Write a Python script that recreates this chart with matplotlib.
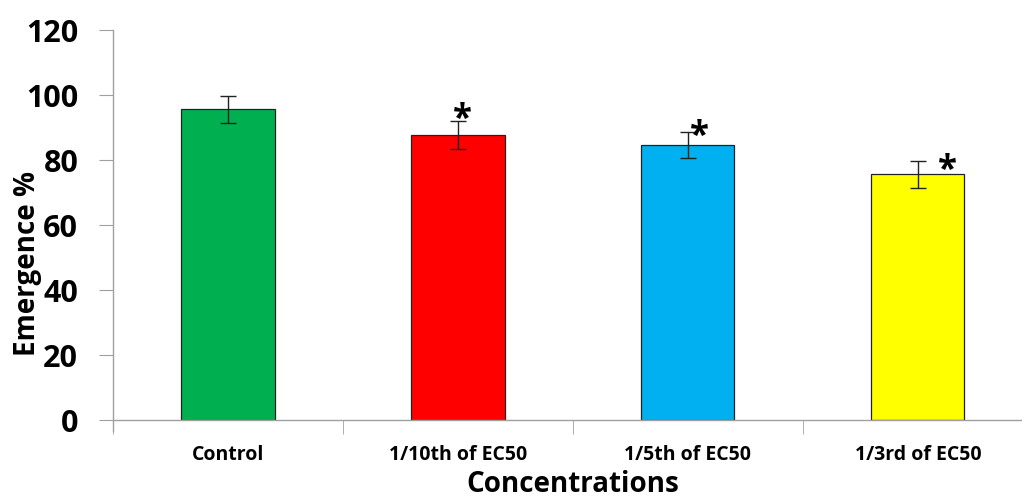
import matplotlib.pyplot as plt
import numpy as np

categories = ["Control", "1/10th of EC50", "1/5th of EC50", "1/3rd of EC50"]
emergence = [95.6, 87.7, 84.6, 75.6]
errors = [4.2, 4.2, 4.0, 4.1]
colors = ["#00B050", "#FF0000", "#00B0F0", "#FFFF00"]
# significance marks: (category index, x shift, height)
stars = [(1, 0.02, 92.5), (2, 0.05, 87.5), (3, 0.13, 77.0)]

plt.rcParams['font.family'] = ['Open Sans', 'DejaVu Sans']

fig = plt.figure(figsize=(10.22, 5.02), dpi=100)
ax = fig.add_axes([0.1106, 0.1614, 0.900, 0.777])

x = np.arange(len(categories))
ax.bar(x, emergence, width=0.405, color=colors, edgecolor="#222222", linewidth=0.9, zorder=2)
ax.errorbar(x, emergence, yerr=errors, fmt="none", ecolor="#222222", elinewidth=1.0,
            capsize=6, capthick=1.0, zorder=3)

for i, dx, y in stars:
    ax.text(i + dx, y, "*", ha="center", va="center", fontsize=25, fontweight="bold")

ax.set_xlim(-0.5, 3.5)
ax.set_ylim(0, 120)
ax.set_yticks(range(0, 121, 20))
ax.set_yticklabels([str(v) for v in range(0, 121, 20)], fontsize=22, fontweight="bold")
ax.set_xticks(x)
ax.set_xticklabels(categories, fontsize=14, fontweight="bold")
ax.set_xticks(np.arange(-0.5, 4.0, 1.0), minor=True)
ax.tick_params(axis="x", which="major", length=0, pad=17)
ax.tick_params(axis="x", which="minor", length=10, color="#a0a0a0", direction="out")
ax.tick_params(axis="y", length=10, color="#a0a0a0", direction="out", pad=15)

for side in ["top", "right"]:
    ax.spines[side].set_visible(False)
for side in ["left", "bottom"]:
    ax.spines[side].set_color("#a0a0a0")
    ax.spines[side].set_linewidth(1.0)
ax.spines["left"].set_bounds(-3.5, 120)
ax.spines["left"].set_clip_on(False)

ax.set_ylabel("Emergence %", fontsize=20, fontweight="bold")
ax.yaxis.set_label_coords(-0.077, 0.405)
ax.set_xlabel("Concentrations", fontsize=20, fontweight="bold", labelpad=4)

fig.savefig("out.png", dpi=100)
